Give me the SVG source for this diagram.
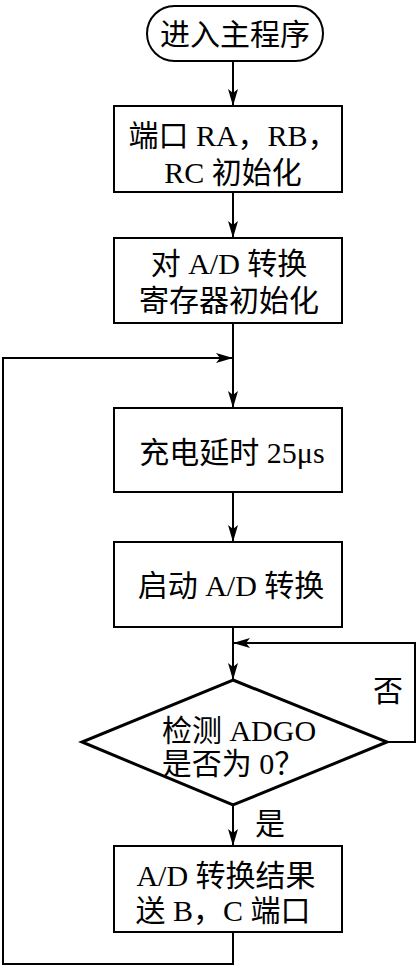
<svg xmlns="http://www.w3.org/2000/svg" width="417" height="965" viewBox="0 0 417 965">
<style>
.n{fill:#fff;stroke:#000;stroke-width:2}
.d{fill:#fff;stroke:#000;stroke-width:3}
.c{fill:none;stroke:#000;stroke-width:2}
text{font-family:"Liberation Serif","Noto Sans CJK SC",serif;font-size:30px;fill:#000;text-anchor:middle}
</style>
<defs>
<marker id="ah" markerUnits="userSpaceOnUse" markerWidth="18" markerHeight="10" refX="17" refY="5" orient="auto">
<path d="M0,0 L17,5 L0,10 L4,5 Z" fill="#000"/>
</marker>
</defs>
<g id="connectors">
<line class="c" x1="233" y1="61" x2="233" y2="106" marker-end="url(#ah)"/>
<line class="c" x1="233" y1="192" x2="233" y2="238" marker-end="url(#ah)"/>
<line class="c" x1="233" y1="323" x2="233" y2="408" marker-end="url(#ah)"/>
<polyline class="c" points="233,932 233,964 3,964 3,358 233,358" marker-end="url(#ah)"/>
<line class="c" x1="233" y1="492" x2="233" y2="542" marker-end="url(#ah)"/>
<line class="c" x1="233" y1="627" x2="233" y2="680" marker-end="url(#ah)"/>
<polyline class="c" points="387,742 415,742 415,643 233,643" marker-end="url(#ah)"/>
<line class="c" x1="233" y1="805" x2="233" y2="846" marker-end="url(#ah)"/>
<text x="388" y="701">否</text>
<text x="270" y="834">是</text>
</g>
<g id="start">
<rect class="n" x="147" y="6" width="176" height="55" rx="27.5"/>
<text x="235" y="45">进入主程序</text>
</g>
<g id="init-ports">
<rect class="n" x="114" y="106" width="228" height="86"/>
<text x="233" y="146">端口 RA，RB，</text>
<text x="233" y="183">RC 初始化</text>
</g>
<g id="init-ad">
<rect class="n" x="114" y="238" width="228" height="85"/>
<text x="229" y="274">对 A/D 转换</text>
<text x="229" y="311">寄存器初始化</text>
</g>
<g id="delay">
<rect class="n" x="114" y="408" width="228" height="84"/>
<text x="232" y="463">充电延时 25μs</text>
</g>
<g id="start-ad">
<rect class="n" x="114" y="542" width="228" height="85"/>
<text x="231" y="596">启动 A/D 转换</text>
</g>
<g id="check">
<polygon class="d" points="233,680 387,742 233,805 82,742"/>
<text x="239" y="741">检测 ADGO</text>
<text x="233" y="774">是否为 0？</text>
</g>
<g id="output">
<rect class="n" x="114" y="846" width="228" height="86"/>
<text x="226" y="886">A/D 转换结果</text>
<text x="223" y="921">送 B，C 端口</text>
</g>
</svg>
